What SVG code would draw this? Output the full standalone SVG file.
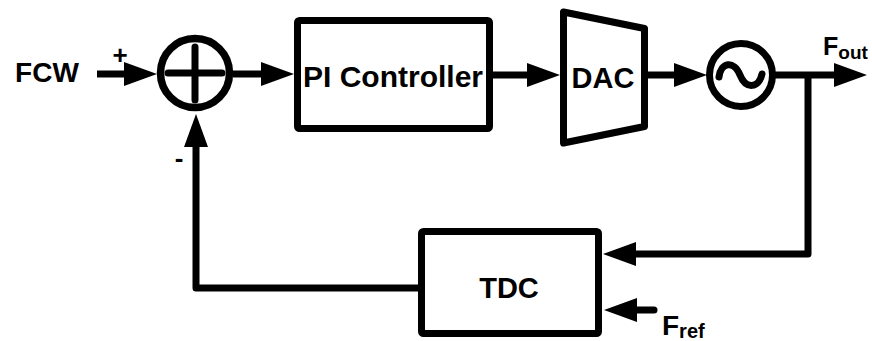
<svg xmlns="http://www.w3.org/2000/svg" width="872" height="341" viewBox="0 0 872 341">
  <style>
    .blk { fill: #fff; stroke: #000; stroke-width: 7; stroke-linejoin: round; }
    .sym { fill: none; stroke: #000; stroke-width: 7; stroke-linecap: round; }
    .wire { fill: none; stroke: #000; stroke-width: 7; stroke-linejoin: round; }
    .lbl { font-family: "Liberation Sans", Arial, sans-serif; font-weight: bold; fill: #000; }
  </style>
  <defs>
    <marker id="arrow" markerUnits="userSpaceOnUse" markerWidth="33" markerHeight="24" refX="1" refY="12" orient="auto">
      <path d="M0,0 L33,12 L0,24 z" fill="#000"/>
    </marker>
  </defs>

  <rect width="872" height="341" fill="#fff"/>

  <!-- connectors -->
  <g id="connectors">
    <path class="wire" d="M97,74 H125" marker-end="url(#arrow)"/>
    <path class="wire" d="M233,74 H262" marker-end="url(#arrow)"/>
    <path class="wire" d="M493,75 H528" marker-end="url(#arrow)"/>
    <path class="wire" d="M648,75 H675" marker-end="url(#arrow)"/>
    <path class="wire" d="M775,75 H835" marker-end="url(#arrow)"/>
    <path class="wire" d="M808,75 V254 H635" marker-end="url(#arrow)"/>
    <path class="wire" d="M418,288 H196 V146" marker-end="url(#arrow)"/>
    <path class="wire" d="M654,310 H636" stroke-linecap="round" marker-end="url(#arrow)"/>
  </g>

  <!-- input label and signs -->
  <g id="fcw">
    <text class="lbl" x="47" y="82" font-size="28" text-anchor="middle">FCW</text>
    <text class="lbl" x="120" y="64" font-size="26" text-anchor="middle">+</text>
  </g>

  <!-- summing junction -->
  <g id="sum">
    <circle cx="195" cy="73" r="34.5" fill="#fff" stroke="#000" stroke-width="7.5"/>
    <path class="sym" d="M168,73 H222 M195,47 V100"/>
    <text class="lbl" x="179" y="167" font-size="26" text-anchor="middle">-</text>
  </g>

  <!-- PI controller -->
  <g id="pi">
    <rect class="blk" x="297.5" y="20.5" width="192" height="108" rx="2"/>
    <text class="lbl" x="393" y="87" font-size="30" text-anchor="middle">PI Controller</text>
  </g>

  <!-- DAC -->
  <g id="dac">
    <polygon class="blk" points="563.5,12 644.5,28.5 644.5,126.5 563.5,143"/>
    <text class="lbl" x="603" y="88" font-size="29" text-anchor="middle">DAC</text>
  </g>

  <!-- oscillator -->
  <g id="vco">
    <circle cx="741" cy="75" r="31.5" fill="#fff" stroke="#000" stroke-width="7"/>
    <path class="sym" d="M719,77 C721,62 734,60 740,75 C746,90 759,88 762,74"/>
  </g>

  <!-- output label -->
  <g id="fout">
    <text class="lbl" x="823" y="55" font-size="25">F<tspan font-size="19" dy="4">out</tspan></text>
  </g>

  <!-- TDC -->
  <g id="tdc">
    <rect class="blk" x="421.5" y="231.5" width="177" height="102" rx="2"/>
    <text class="lbl" x="509" y="298" font-size="29" text-anchor="middle">TDC</text>
  </g>

  <!-- reference label -->
  <g id="fref">
    <text class="lbl" x="662" y="335" font-size="28">F<tspan font-size="20" dy="3">ref</tspan></text>
  </g>
</svg>
